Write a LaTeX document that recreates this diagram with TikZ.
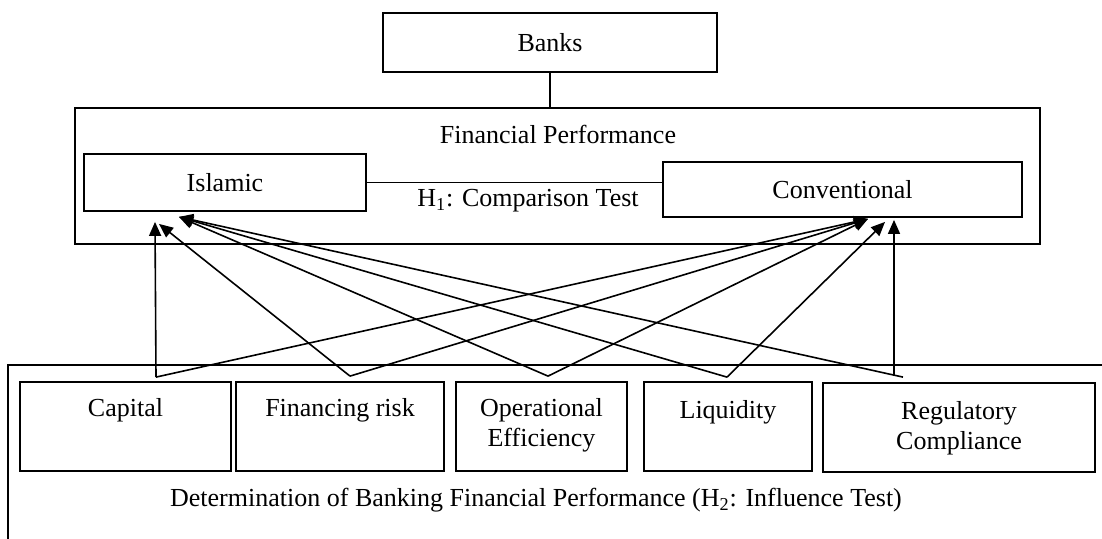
\documentclass[tikz,border=0pt]{standalone}
\usepackage{fontspec}
\setmainfont{Liberation Serif}
\usetikzlibrary{positioning, arrows.meta, calc}

\tikzset{
    box/.style={draw, line width=0.9pt, inner sep=0pt},
    factor/.style={box, minimum height=44.5pt},
    infl/.style={-{Triangle[length=7pt,width=6pt]}, line width=0.8pt},
}

\begin{document}
\begin{tikzpicture}[x=0.5pt, y=-0.5pt, font=\fontsize{13}{15}\selectfont]
    \clip (0,0) rectangle (1102,538);
    \useasboundingbox (0,0) rectangle (1102,538);

    % top part
    \node[box, minimum width=167pt, minimum height=29.5pt] (banks) at (550,42.5) {Banks};
    \node[box, minimum width=482.5pt, minimum height=68pt] (perf) at (557.5,176) {};
    \node (perftitle) at (558,134) {Financial Performance};
    \node[box, minimum width=141pt, minimum height=28.5pt] (isl) at (225,182.5) {Islamic};
    \node[box, minimum width=179.5pt, minimum height=27.5pt] (conv) at (842.5,189.5) {Conventional};
    \node (h1) at (528,201) {H\textsubscript{1}: Comparison Test};

    \draw[line width=0.9pt] (banks.south) -- (banks.south |- perf.north);
    \draw[line width=0.9pt] (isl.east) -- (isl.east -| conv.west);

    % bottom part
    \draw[line width=0.9pt] (8,365) rectangle (1120,560);
    \node (h2) at (536,500) {Determination of Banking Financial Performance (H\textsubscript{2}: Influence Test)};

    \node[factor, minimum width=105.5pt, label={[anchor=north, yshift=-5pt]north:Capital}] (cap) at (125.5,426.5) {};
    \node[factor, minimum width=104pt, label={[anchor=north, yshift=-5pt]north:Financing risk}] (fin) at (340,426.5) {};
    \node[factor, minimum width=85.5pt, label={[anchor=north, yshift=-5pt, align=center]north:Operational\\Efficiency}] (ope) at (541.5,426.5) {};
    \node[factor, minimum width=84pt, label={[anchor=north, yshift=-6pt]north:Liquidity}] (liq) at (728,426.5) {};
    \node[factor, minimum width=136pt, label={[anchor=north, yshift=-6pt, align=center]north:Regulatory\\Compliance}] (reg) at (959,427.5) {};

    % arrow ends
    \coordinate (capout) at ($(cap.north)+(30.5,-4)$);
    \coordinate (finout) at ($(fin.north)+(10,-5)$);
    \coordinate (opeout) at ($(ope.north)+(6.5,-5)$);
    \coordinate (liqout) at ($(liq.north)+(-1,-4)$);
    \coordinate (regout) at ($(reg.north)+(-65,-6)$);
    \coordinate (regout2) at ($(reg.north)+(-56,-5)$);

    \coordinate (isl1) at ($(isl.south)+(-70,10)$);
    \coordinate (isl2) at ($(isl.south)+(-66,12)$);
    \coordinate (isl3) at ($(isl.south)+(-46,5)$);
    \coordinate (conv1) at ($(conv.south)+(25.5,1)$);
    \coordinate (conv2) at ($(conv.south)+(42.5,4)$);
    \coordinate (conv3) at ($(conv.south)+(51.5,2)$);

    \path[infl]
        (capout) edge (isl1)
        (capout) edge (conv1)
        (finout) edge (isl2)
        (finout) edge (conv1)
        (opeout) edge (isl3)
        (opeout) edge (conv1)
        (liqout) edge (isl3)
        (liqout) edge (conv2)
        (regout) edge (conv3)
        (regout2) edge (isl3)
       ;
\end{tikzpicture}
\end{document}
